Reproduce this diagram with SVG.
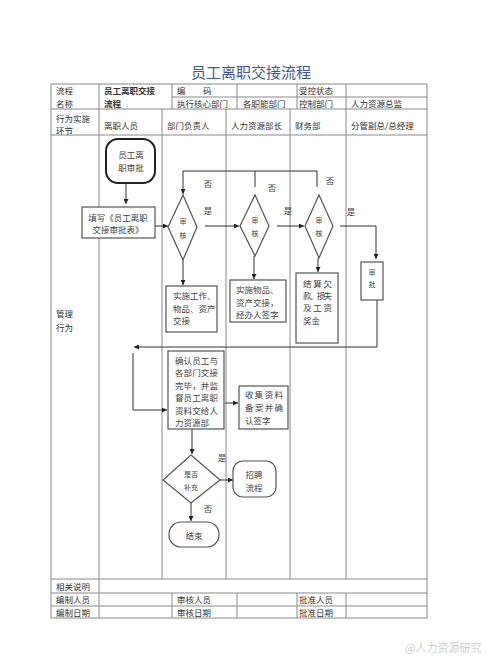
<svg xmlns="http://www.w3.org/2000/svg" width="500" height="666" viewBox="0 0 500 666">
<defs>
<style>
.t{font-family:"Noto Sans CJK SC","Noto Sans",sans-serif;font-size:8.5px;fill:#333;dominant-baseline:central}
.f{font-size:8.5px;fill:#444}
.d{font-size:7px;text-anchor:middle;fill:#444}
.y{font-size:8.5px}
.m{text-anchor:middle}
.b{font-weight:bold}
.grid{stroke:#8a8a8a;stroke-width:1;fill:none}
.ln{stroke:#333;stroke-width:1;fill:none}
.box{fill:#fff;stroke:#555;stroke-width:1.2}
.arr{marker-end:url(#ah)}
</style>
<marker id="ah" viewBox="0 0 10 10" refX="10" refY="5" markerWidth="6" markerHeight="5" orient="auto" markerUnits="userSpaceOnUse">
<path d="M0,0 L10,5 L0,10 z" fill="#222"/>
</marker>
</defs>
<rect width="500" height="666" fill="#fff"/>

<text x="251" y="71" class="t m" style="font-size:15px;fill:#3d5a96">员工离职交接流程</text>

<g id="table">
<rect x="51" y="84" width="376" height="534" class="grid"/>
<path class="grid" d="M172,97 H427 M51,109 H427 M51,135 H427 M51,579 H427 M51,593 H427 M51,606 H427
M99,84 V135 M172,84 V109 M237,84 V109 M297,84 V109 M346,84 V109
M162,109 V579 M226,109 V579 M290,109 V579 M346,109 V579 M99,135 V579
M99,579 V618 M172,593 V618 M237,593 V618 M297,593 V618 M346,593 V618"/>
<text class="t" x="56" y="90">流程</text>
<text class="t" x="56" y="103">名称</text>
<text class="t b" x="104" y="90">员工离职交接</text>
<text class="t b" x="104" y="103">流程</text>
<text class="t" x="177" y="90">编</text>
<text class="t" x="203" y="90">码</text>
<text class="t" x="299" y="90">受控状态</text>
<text class="t" x="177" y="103">执行核心部门</text>
<text class="t" x="243" y="103">各职能部门</text>
<text class="t" x="299" y="103">控制部门</text>
<text class="t" x="351" y="103">人力资源总监</text>
<text class="t" x="56" y="118">行为实施</text>
<text class="t" x="56" y="130">环节</text>
<text class="t" x="104" y="125">离职人员</text>
<text class="t" x="167" y="125">部门负责人</text>
<text class="t" x="231" y="125">人力资源部长</text>
<text class="t" x="295" y="125">财务部</text>
<text class="t" x="351" y="125">分管副总/总经理</text>
<text class="t" x="56" y="313">管理</text>
<text class="t" x="56" y="327">行为</text>
<text class="t" x="56" y="586">相关说明</text>
<text class="t" x="56" y="599">编制人员</text>
<text class="t" x="56" y="612">编制日期</text>
<text class="t" x="177" y="599">审核人员</text>
<text class="t" x="177" y="612">审核日期</text>
<text class="t" x="299" y="599">批准人员</text>
<text class="t" x="299" y="612">批准日期</text>
</g>

<g id="connectors">
<path class="ln arr" d="M126,183 V204"/>
<path class="ln arr" d="M155,226 H168"/>
<path class="ln arr" d="M205,226 H239"/>
<path class="ln arr" d="M277,226 H304"/>
<path class="ln arr" d="M340,226 H376 V259"/>
<path class="ln arr" d="M255,187 V171 H183 V194"/>
<path class="ln" d="M317,187 V171 H255"/>
<path class="ln arr" d="M183,260 V285"/>
<path class="ln arr" d="M254,256 V279"/>
<path class="ln arr" d="M318,258 V272"/>
<path class="ln arr" d="M377,300 V347 H134"/>
<path class="ln arr" d="M133,353 V410 H167"/>
<path class="ln arr" d="M225,403 H238"/>
<path class="ln arr" d="M192,429 V454"/>
<path class="ln arr" d="M220,480 H233"/>
<path class="ln arr" d="M191,503 V521"/>
<text class="t d y" x="208" y="183">否</text>
<text class="t d y" x="208" y="210">是</text>
<text class="t d y" x="272" y="187">否</text>
<text class="t d y" x="288" y="210">是</text>
<text class="t d y" x="330" y="180">否</text>
<text class="t d y" x="351" y="211">是</text>
<text class="t d y" x="222" y="457">是</text>
<text class="t d y" x="208" y="508">否</text>
</g>

<g id="start">
<rect x="106" y="139" width="49" height="44" rx="12" class="box" style="stroke-width:2;stroke:#222"/>
<text class="t f m" x="131" y="154">员工离</text>
<text class="t f m" x="131" y="167">职审批</text>
</g>

<g id="fill-form">
<rect x="82" y="207" width="73" height="31" class="box"/>
<text class="t f m" x="118" y="217">填写《员工离职</text>
<text class="t f m" x="118" y="229">交接审批表》</text>
</g>

<g id="review1">
<polygon points="183,195 197,227 183,260 168,227" class="box"/>
<text class="t d" x="183" y="221">审</text>
<text class="t d" x="183" y="235">核</text>
</g>

<g id="review2">
<polygon points="255,195 269,226 255,256 240,226" class="box"/>
<text class="t d" x="255" y="220">审</text>
<text class="t d" x="255" y="233">核</text>
</g>

<g id="review3">
<polygon points="319,195 333,226 319,258 305,226" class="box"/>
<text class="t d" x="319" y="220">审</text>
<text class="t d" x="319" y="233">核</text>
</g>

<g id="approve">
<rect x="361" y="262" width="22" height="38" class="box"/>
<text class="t d" x="372" y="272">审</text>
<text class="t d" x="372" y="284">批</text>
</g>

<g id="handover-dept">
<rect x="166" y="286" width="51" height="46" class="box"/>
<text class="t f" x="173" y="295">实施工作、</text>
<text class="t f" x="173" y="308">物品、资产</text>
<text class="t f" x="173" y="320">交接</text>
</g>

<g id="handover-hr">
<rect x="230" y="280" width="56" height="42" class="box"/>
<text class="t f" x="236" y="289">实施物品、</text>
<text class="t f" x="236" y="302">资产交接，</text>
<text class="t f" x="236" y="314">经办人签字</text>
</g>

<g id="settle">
<rect x="296" y="273" width="42" height="70" class="box"/>
<text class="t f" x="303" y="283" textLength="29" lengthAdjust="spacing">结算欠</text>
<text class="t f" x="303" y="295" textLength="29" lengthAdjust="spacing">款、损失</text>
<text class="t f" x="303" y="307" textLength="29" lengthAdjust="spacing">及工资</text>
<text class="t f" x="303" y="320">奖金</text>
</g>

<g id="confirm">
<rect x="168" y="351" width="56" height="78" class="box"/>
<text class="t f" x="175" y="360" textLength="43" lengthAdjust="spacing">确认员工与</text>
<text class="t f" x="175" y="372" textLength="43" lengthAdjust="spacing">各部门交接</text>
<text class="t f" x="175" y="385" textLength="43" lengthAdjust="spacing">完毕，并监</text>
<text class="t f" x="175" y="397" textLength="43" lengthAdjust="spacing">督员工离职</text>
<text class="t f" x="175" y="410" textLength="43" lengthAdjust="spacing">资料交给人</text>
<text class="t f" x="175" y="422">力资源部</text>
</g>

<g id="archive">
<rect x="239" y="386" width="49" height="43" class="box"/>
<text class="t f" x="245" y="394" textLength="38" lengthAdjust="spacing">收集资料</text>
<text class="t f" x="245" y="407" textLength="38" lengthAdjust="spacing">备案并确</text>
<text class="t f" x="245" y="420">认签字</text>
</g>

<g id="supplement">
<polygon points="191,455 220,480 191,503 163,480" class="box"/>
<text class="t d" x="191" y="474">是否</text>
<text class="t d" x="191" y="487">补充</text>
</g>

<g id="recruit">
<rect x="233" y="461" width="43" height="36" rx="10" class="box"/>
<text class="t f m" x="254" y="474">招聘</text>
<text class="t f m" x="254" y="487">流程</text>
</g>

<g id="end">
<rect x="169" y="522" width="50" height="25" rx="12" class="box"/>
<text class="t f m" x="194" y="535">结束</text>
</g>

<text class="t" x="405" y="647" style="font-size:11px;fill:#cfcfcf">@人力资源研究</text>
</svg>
